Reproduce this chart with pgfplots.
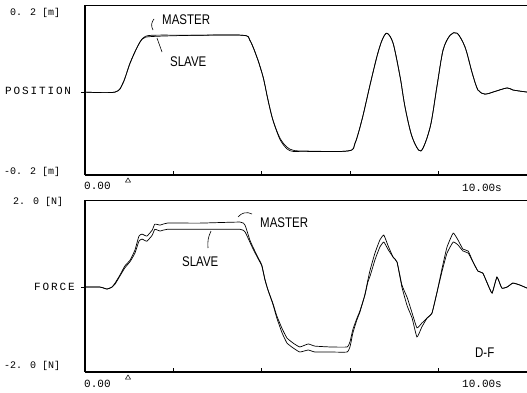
\documentclass[border=0pt]{standalone}
\usepackage{fontspec}
\setmainfont{Liberation Sans}[FakeStretch=0.82]
\newfontfamily\mono{Liberation Mono}
\newfontfamily\monosp{Liberation Mono}[LetterSpace=17]
\usepackage{pgfplots}
\usepackage{pgfplotstable}
\pgfplotsset{compat=1.18}

\pgfplotstableread{
t p
0 0
0.68 0
0.86 0.022
1.02 0.070
1.18 0.108
1.31 0.130
1.52 0.137
2.50 0.137
3.57 0.137
3.73 0.125
3.89 0.084
4.03 0.036
4.14 -0.019
4.25 -0.067
4.41 -0.111
4.57 -0.133
4.70 -0.140
4.90 -0.142
5.95 -0.142
6.11 -0.123
6.27 -0.065
6.45 0.018
6.61 0.088
6.72 0.125
6.83 0.142
6.97 0.118
7.13 0.036
7.24 -0.036
7.40 -0.108
7.60 -0.142
7.81 -0.084
7.96 0.012
8.10 0.101
8.26 0.137
8.42 0.142
8.60 0.108
8.76 0.046
8.89 0.005
9.05 -0.005
9.23 0
9.55 0.010
9.68 0.005
10 0
}\posmaster

\pgfplotstableread{
t p
0 0
0.68 0
0.86 0.022
1.02 0.070
1.18 0.108
1.31 0.129
1.52 0.134
2.50 0.137
3.57 0.137
3.73 0.125
3.89 0.084
4.03 0.036
4.14 -0.019
4.25 -0.067
4.41 -0.114
4.57 -0.137
4.70 -0.143
4.90 -0.143
5.95 -0.142
6.11 -0.123
6.27 -0.065
6.45 0.018
6.61 0.088
6.72 0.125
6.83 0.142
6.97 0.118
7.13 0.036
7.24 -0.036
7.40 -0.108
7.60 -0.142
7.81 -0.084
7.96 0.012
8.10 0.101
8.26 0.137
8.42 0.142
8.60 0.108
8.76 0.046
8.89 0.005
9.05 -0.005
9.23 0
9.55 0.010
9.68 0.005
10 0
}\posslave

\pgfplotstableread{
t f
0 0
0.34 0
0.50 -0.047
0.61 0
0.68 0.094
0.79 0.282
0.90 0.494
1.02 0.635
1.13 0.871
1.22 1.200
1.29 1.247
1.40 1.200
1.52 1.341
1.58 1.482
1.70 1.459
1.86 1.506
2.60 1.506
3.51 1.530
3.62 1.459
3.73 1.106
3.80 0.941
3.91 0.706
4.00 0.518
4.07 0.188
4.14 -0.071
4.25 -0.400
4.34 -0.729
4.46 -1.082
4.57 -1.318
4.71 -1.435
4.86 -1.529
5.05 -1.482
5.20 -1.529
5.54 -1.529
5.93 -1.529
6.00 -1.388
6.06 -1.082
6.15 -0.776
6.22 -0.588
6.33 -0.188
6.40 0.165
6.45 0.400
6.56 0.800
6.67 1.106
6.76 1.224
6.86 0.965
6.97 0.706
7.06 0.588
7.17 0
7.29 -0.447
7.40 -0.729
7.51 -1.176
7.62 -0.941
7.74 -0.729
7.85 -0.612
7.96 -0.141
8.08 0.447
8.19 0.941
8.33 1.271
8.44 1.106
8.55 0.894
8.67 0.847
8.78 0.588
8.89 0.376
9.00 0.329
9.10 0.094
9.21 -0.141
9.32 0.235
9.43 -0.024
9.55 0
9.68 0.094
9.84 0.047
10 -0.024
}\frcmaster

\pgfplotstableread{
t f
0 0
0.34 0
0.50 -0.047
0.61 0
0.68 0.07
0.79 0.26
0.90 0.45
1.02 0.60
1.13 0.80
1.22 1.08
1.29 1.13
1.40 1.08
1.52 1.22
1.58 1.36
1.70 1.32
1.86 1.36
2.60 1.36
3.51 1.36
3.62 1.30
3.73 1.06
3.80 0.90
3.91 0.68
4.00 0.50
4.07 0.17
4.14 -0.07
4.25 -0.38
4.34 -0.68
4.46 -0.98
4.57 -1.20
4.71 -1.32
4.86 -1.41
5.05 -1.34
5.20 -1.39
5.54 -1.41
5.93 -1.41
6.00 -1.27
6.06 -1.00
6.15 -0.74
6.22 -0.56
6.33 -0.20
6.40 0.12
6.45 0.26
6.56 0.64
6.67 0.94
6.76 1.06
6.86 0.88
6.97 0.706
7.06 0.588
7.17 0.05
7.29 -0.25
7.40 -0.61
7.51 -0.96
7.62 -0.85
7.74 -0.73
7.85 -0.612
7.96 -0.141
8.08 0.38
8.19 0.80
8.33 1.06
8.44 0.99
8.55 0.85
8.67 0.80
8.78 0.588
8.89 0.376
9.00 0.329
9.10 0.094
9.21 -0.141
9.32 0.235
9.43 -0.024
9.55 0
9.68 0.094
9.84 0.047
10 -0.024
}\frcslave

\pgfplotsset{
  myaxis/.style={
    scale only axis, anchor=south west,
    width=442pt,
    xmin=0, xmax=10,
    axis x line=bottom, axis y line=left,
    axis line style={-, line width=1.1pt, black},
    xtick={2,4,6,8}, xticklabels={},
    xtick align=inside,
    ytick={0}, yticklabels={},
    ytick align=outside,
    major tick length=4pt,
    tick style={black, line width=0.8pt},
    every axis plot/.append style={black, line width=0.7pt},
  }
}

\begin{document}
\begin{tikzpicture}[x=1pt,y=1pt]
\path[use as bounding box] (0,0) rectangle (527,392);

\begin{axis}[myaxis, at={(85pt,217pt)}, height=170pt, ymin=-0.2, ymax=0.21]
\addplot[smooth, tension=0.5] table[x=t,y=p] {\posslave};
\addplot[smooth, tension=0.5] table[x=t,y=p] {\posmaster};
\draw[line width=0.8pt] (rel axis cs:0,1) -- (rel axis cs:1,1);
\end{axis}

\begin{axis}[myaxis, at={(85pt,20pt)}, height=172pt, ymin=-2, ymax=2.05]
\addplot[smooth, tension=0.25] table[x=t,y=f] {\frcslave};
\addplot[smooth, tension=0.25] table[x=t,y=f] {\frcmaster};
\draw[line width=0.8pt] (rel axis cs:0,1) -- (rel axis cs:1,1);
\end{axis}

% top labels
\node[anchor=west, inner sep=0pt, font=\mono\fontsize{10}{10}\selectfont] at (10,379) {0. 2 [m]};
\node[anchor=west, inner sep=0pt, font=\monosp\fontsize{11}{11}\selectfont] at (5,301) {POSITION};
\node[anchor=west, inner sep=0pt, font=\mono\fontsize{10}{10}\selectfont] at (4,220) {-0. 2 [m]};
\node[anchor=west, inner sep=0pt, font=\mono\fontsize{11}{11}\selectfont] at (84,206) {0.00};
\node[anchor=west, inner sep=0pt, font=\mono\fontsize{11}{11}\selectfont] at (462,204) {10.00s};
\node[anchor=west, inner sep=0pt, font=\fontsize{14}{14}\selectfont] at (162,372) {MASTER};
\node[anchor=west, inner sep=0pt, font=\fontsize{14}{14}\selectfont] at (170,330) {SLAVE};
\draw[line width=0.6pt] (154,373) to[bend right=35] (153,362);
\draw[line width=0.6pt] (157,354) -- (162,340);
\draw[line width=0.5pt] (125.5,210) -- (128,214) -- (130.5,210) -- cycle;

% bottom labels
\node[anchor=west, inner sep=0pt, font=\mono\fontsize{10}{10}\selectfont] at (13,190) {2. 0 [N]};
\node[anchor=west, inner sep=0pt, font=\monosp\fontsize{11}{11}\selectfont] at (34,105) {FORCE};
\node[anchor=west, inner sep=0pt, font=\mono\fontsize{10}{10}\selectfont] at (4,26) {-2. 0 [N]};
\node[anchor=west, inner sep=0pt, font=\mono\fontsize{11}{11}\selectfont] at (84,8) {0.00};
\node[anchor=west, inner sep=0pt, font=\mono\fontsize{11}{11}\selectfont] at (462,8) {10.00s};
\node[anchor=west, inner sep=0pt, font=\fontsize{14}{14}\selectfont] at (260,169) {MASTER};
\node[anchor=west, inner sep=0pt, font=\fontsize{14}{14}\selectfont] at (182,130) {SLAVE};
\node[anchor=west, inner sep=0pt, font=\fontsize{14}{14}\selectfont] at (475,39) {D-F};
\draw[line width=0.6pt] (238,175) to[bend left=40] (252,178);
\draw[line width=0.6pt] (211,161) to[bend right=15] (208,144);
\draw[line width=0.5pt] (125.5,13) -- (128,17) -- (130.5,13) -- cycle;
\end{tikzpicture}
\end{document}
